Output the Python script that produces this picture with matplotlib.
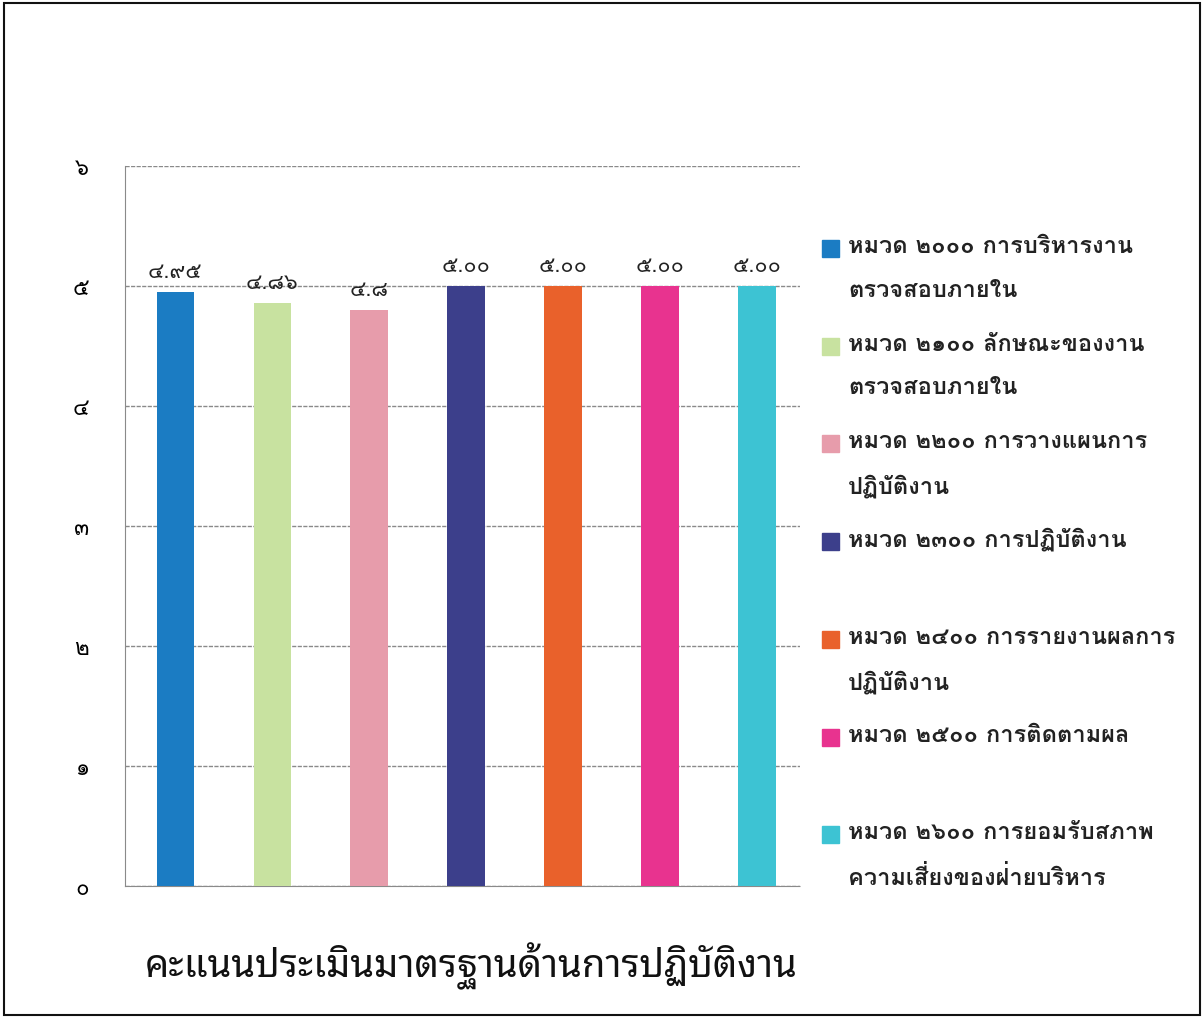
import matplotlib
matplotlib.use('Agg')
import matplotlib.pyplot as plt
from matplotlib.patches import Rectangle

categories = ['หมวด ๒๐๐๐ การบริหารงาน\nตรวจสอบภายใน',
              'หมวด ๒๑๐๐ ลักษณะของงาน\nตรวจสอบภายใน',
              'หมวด ๒๒๐๐ การวางแผนการ\nปฏิบัติงาน',
              'หมวด ๒๓๐๐ การปฏิบัติงาน',
              'หมวด ๒๔๐๐ การรายงานผลการ\nปฏิบัติงาน',
              'หมวด ๒๕๐๐ การติดตามผล',
              'หมวด ๒๖๐๐ การยอมรับสภาพ\nความเสี่ยงของฝ่ายบริหาร']
scores = [4.95, 4.86, 4.8, 5.00, 5.00, 5.00, 5.00]
score_labels = ['๔.๙๕', '๔.๘๖', '๔.๘', '๕.๐๐', '๕.๐๐', '๕.๐๐', '๕.๐๐']
yticks = [0, 1, 2, 3, 4, 5, 6]
ytick_labels = ['๐', '๑', '๒', '๓', '๔', '๕', '๖']
colors = ['#1b7cc3', '#c8e2a0', '#e79cab', '#3c3f8b', '#e9612b', '#e8338f', '#3dc3d3']
title = 'คะแนนประเมินมาตรฐานด้านการปฏิบัติงาน'

plt.rcParams['font.family'] = ['Loma', 'DejaVu Sans']

fig = plt.figure(figsize=(12.04, 10.20), dpi=100)
ax = fig.add_axes([125 / 1204, 1 - 887 / 1020, 675 / 1204, 720 / 1020])

x = list(range(len(scores)))
ax.bar(x, scores, width=0.39, color=colors, zorder=3)
for xi, v, lab in zip(x, scores, score_labels):
    ax.text(xi, v + 0.08, lab, ha='center', va='bottom', fontsize=15.5, color='#222222')

ax.set_xlim(-0.52, 6.44)
ax.set_ylim(0, 6)
ax.set_yticks(yticks)
ax.set_yticklabels(ytick_labels, fontsize=16)
ax.set_xticks([])
ax.tick_params(axis='y', length=0, pad=26)
ax.grid(axis='y', color='#8a8a8a', linestyle=(0, (3, 1)), linewidth=1, zorder=0)
for s in ['top', 'right']:
    ax.spines[s].set_visible(False)
for s in ['left', 'bottom']:
    ax.spines[s].set_color('#8a8a8a')
    ax.spines[s].set_linestyle((0, (3, 1)))

# legend drawn by hand so the entries keep even spacing
for i, (lab, c) in enumerate(zip(categories, colors)):
    ytop = 1 - (240 + i * 97.7) / 1020
    fig.patches.append(Rectangle((822 / 1204, ytop - 18 / 1020), 17 / 1204, 17 / 1020,
                                 transform=fig.transFigure, color=c))
    fig.text(848 / 1204, ytop + 5 / 1020, lab, ha='left', va='top', fontsize=17,
             fontweight='bold', color='#222222', linespacing=2.15)

fig.text(471 / 1204, 1 - 966 / 1020, title, ha='center', va='center', fontsize=27.5,
         family=['Noto Sans Thai Looped', 'DejaVu Sans'], color='#111111')

fig.patches.append(Rectangle((4 / 1204, 4 / 1020), 1196 / 1204, 1012 / 1020, transform=fig.transFigure,
                             fill=False, edgecolor='#111111', linewidth=1.5))

fig.savefig('out.png', dpi=100)
